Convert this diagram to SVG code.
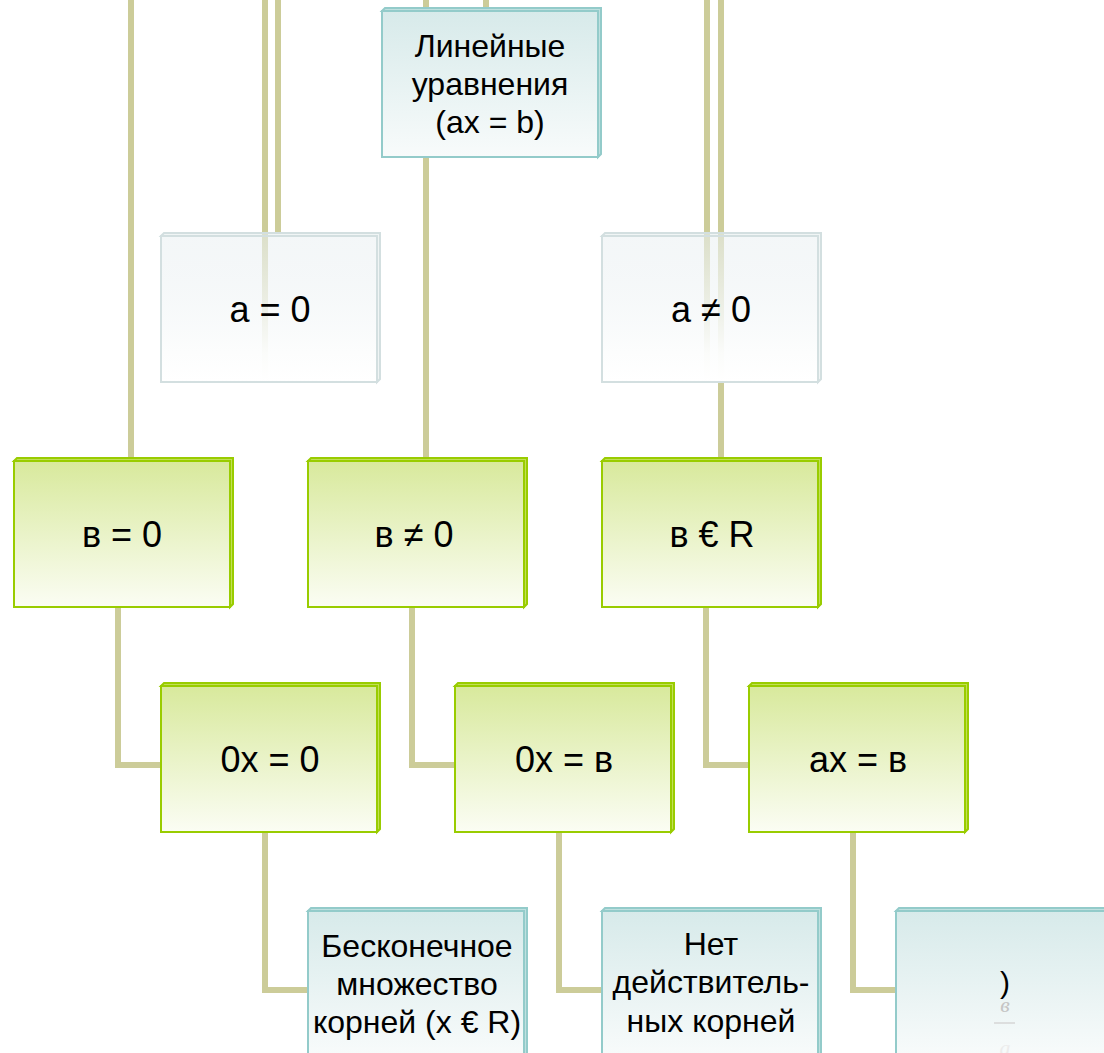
<svg xmlns="http://www.w3.org/2000/svg" width="1104" height="1053" viewBox="0 0 1104 1053">
<defs>
<linearGradient id="gGreen" x1="0" y1="0" x2="0" y2="1"><stop offset="0" stop-color="#d8e99c"/><stop offset="1" stop-color="#fbfdf4"/></linearGradient>
<linearGradient id="gTeal" x1="0" y1="0" x2="0" y2="1"><stop offset="0" stop-color="#d7eaea"/><stop offset="1" stop-color="#f8fbfb"/></linearGradient>
<linearGradient id="gGray" x1="0" y1="0" x2="0" y2="1"><stop offset="0" stop-color="#eaf0f2" stop-opacity="0.55"/><stop offset="0.8" stop-color="#fcfdfd" stop-opacity="0.97"/><stop offset="1" stop-color="#ffffff" stop-opacity="1"/></linearGradient>
</defs>
<style>
.conn path{fill:none;stroke:#cccc99;stroke-width:6}
.g .ext{fill:#c2df55;stroke:#99cc00;stroke-width:2}
.g .face{fill:url(#gGreen);stroke:#99cc00;stroke-width:2}
.t .ext{fill:#bfe0df;stroke:#93cbca;stroke-width:2}
.t .face{fill:url(#gTeal);stroke:#93cbca;stroke-width:2}
.s .ext{fill:#e6eeef;stroke:#d3dfe0;stroke-width:2;fill-opacity:0.6}
.s .face{fill:url(#gGray);stroke:#d3dfe0;stroke-width:2}
text{font-family:"Liberation Sans",Arial,sans-serif;fill:#000;text-anchor:middle}
.big{font-size:36px}
.mid{font-size:32px}
</style>
<rect width="1104" height="1053" fill="#ffffff"/>
<g id="connectors" class="conn">
<path d="M131,-5 V458"/>
<path d="M265,-5 V381"/>
<path d="M278,-5 V233"/>
<path d="M426,-5 V458"/>
<path d="M486,-5 V8"/>
<path d="M707,-5 V381"/>
<path d="M721,-5 V458"/>
<path d="M118,607 V765 H161"/>
<path d="M412,607 V765 H455"/>
<path d="M706,607 V765 H749"/>
<path d="M265,832 V990 H308"/>
<path d="M559,832 V990 H602"/>
<path d="M853,832 V990 H896"/>
</g>
<g id="linear" class="t">
<polygon class="ext" points="382,11 385,8 601,8 601,154 598,157 598,11"/>
<rect class="face" x="382" y="11" width="216" height="146"/>
<text class="mid" x="490" y="57">Линейные</text>
<text class="mid" x="490" y="95">уравнения</text>
<text class="mid" x="490" y="133">(ax = b)</text>
</g>
<g id="a-zero" class="s">
<polygon class="ext" points="161,236 164,233 380,233 380,379 377,382 377,236"/>
<rect class="face" x="161" y="236" width="216" height="146"/>
<text class="big" x="270" y="322">a = 0</text>
</g>
<g id="a-nonzero" class="s">
<polygon class="ext" points="602,236 605,233 821,233 821,379 818,382 818,236"/>
<rect class="face" x="602" y="236" width="216" height="146"/>
<text class="big" x="711" y="322">a ≠ 0</text>
</g>
<g id="b-zero" class="g">
<polygon class="ext" points="14,461 17,458 233,458 233,604 230,607 230,461"/>
<rect class="face" x="14" y="461" width="216" height="146"/>
<text class="big" x="122" y="547">в = 0</text>
</g>
<g id="b-nonzero" class="g">
<polygon class="ext" points="308,461 311,458 527,458 527,604 524,607 524,461"/>
<rect class="face" x="308" y="461" width="216" height="146"/>
<text class="big" x="414" y="547">в ≠ 0</text>
</g>
<g id="b-real" class="g">
<polygon class="ext" points="602,461 605,458 821,458 821,604 818,607 818,461"/>
<rect class="face" x="602" y="461" width="216" height="146"/>
<text class="big" x="712" y="547">в € R</text>
</g>
<g id="zx-zero" class="g">
<polygon class="ext" points="161,686 164,683 380,683 380,829 377,832 377,686"/>
<rect class="face" x="161" y="686" width="216" height="146"/>
<text class="big" x="270" y="772">0x = 0</text>
</g>
<g id="zx-b" class="g">
<polygon class="ext" points="455,686 458,683 674,683 674,829 671,832 671,686"/>
<rect class="face" x="455" y="686" width="216" height="146"/>
<text class="big" x="564" y="772">0x = в</text>
</g>
<g id="ax-b" class="g">
<polygon class="ext" points="749,686 752,683 968,683 968,829 965,832 965,686"/>
<rect class="face" x="749" y="686" width="216" height="146"/>
<text class="big" x="858" y="772">ax = в</text>
</g>
<g id="infinite" class="t">
<polygon class="ext" points="308,911 311,908 527,908 527,1054 524,1057 524,911"/>
<rect class="face" x="308" y="911" width="216" height="146"/>
<text class="mid" x="417" y="957">Бесконечное</text>
<text class="mid" x="417" y="995">множество</text>
<text class="mid" x="417" y="1033">корней (x € R)</text>
</g>
<g id="no-roots" class="t">
<polygon class="ext" points="602,911 605,908 821,908 821,1054 818,1057 818,911"/>
<rect class="face" x="602" y="911" width="216" height="146"/>
<text class="mid" x="711" y="955">Нет</text>
<text class="mid" x="711" y="993">действитель-</text>
<text class="mid" x="711" y="1032">ных корней</text>
</g>
<g id="formula" class="t">
<polygon class="ext" points="896,911 899,908 1115,908 1115,1054 1112,1057 1112,911"/>
<rect class="face" x="896" y="911" width="216" height="146"/>
<text x="1005" y="993" style="font-size:30px">)</text>
<text x="1005" y="1012" style="font-family:'Liberation Serif',serif;font-style:italic;font-size:22px;fill:#c4c4c4">в</text>
<line x1="994" y1="1023" x2="1015" y2="1023" stroke="#d6d6d6" stroke-width="1.5"/>
<text x="1005" y="1055" style="font-family:'Liberation Serif',serif;font-style:italic;font-size:22px;fill:#ececec">a</text>
</g>
</svg>
